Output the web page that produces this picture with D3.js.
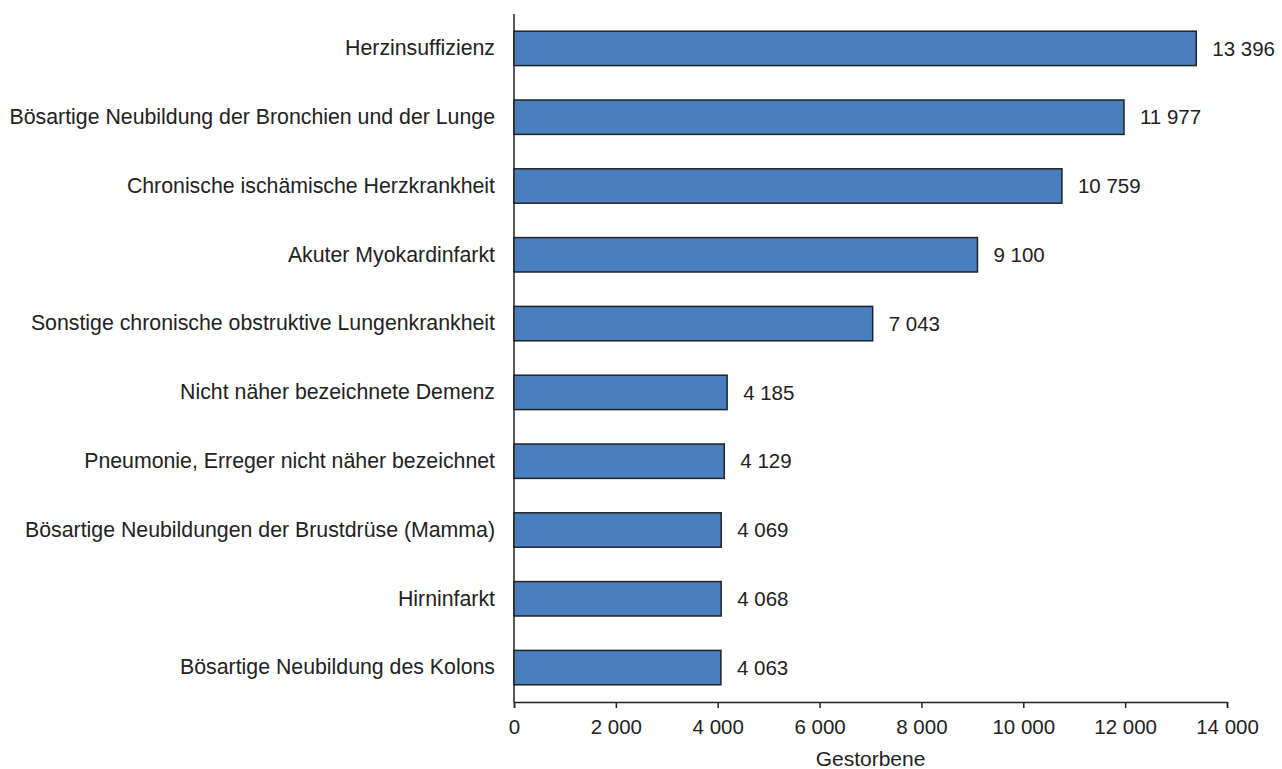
<!DOCTYPE html>
<html>
<head>
<meta charset="utf-8">
<script src="https://cdn.jsdelivr.net/npm/d3@7"></script>
<style>
  body { margin: 0; background: #fff; overflow: hidden; }
  svg { display: block; }
  text { font-family: "Liberation Sans", Arial, sans-serif; fill: #222; }
</style>
</head>
<body>
<script>
//categories and values
const causes = [
  'Herzinsuffizienz',
  'Bösartige Neubildung der Bronchien und der Lunge',
  'Chronische ischämische Herzkrankheit',
  'Akuter Myokardinfarkt',
  'Sonstige chronische obstruktive Lungenkrankheit',
  'Nicht näher bezeichnete Demenz',
  'Pneumonie, Erreger nicht näher bezeichnet',
  'Bösartige Neubildungen der Brustdrüse (Mamma)',
  'Hirninfarkt',
  'Bösartige Neubildung des Kolons'
]
const deaths = [13396, 11977, 10759, 9100, 7043, 4185, 4129, 4069, 4068, 4063]
const xTicks = [0, 2000, 4000, 6000, 8000, 10000, 12000, 14000]
const xAxisLabel = 'Gestorbene'

const data = causes.map((c, i) => ({ cause: c, value: deaths[i] }))

const width = 1282
const height = 769
const margin = { top: 14, right: 55, bottom: 67, left: 514 }
const innerWidth = width - margin.left - margin.right
const innerHeight = height - margin.top - margin.bottom

const barColor = '#4a7fbf'
const labelSize = '21.3px'
const numSize = '20.5px'

//number format with a space as thousands separator
const fmt = n => d3.format(',')(n).replace(/,/g, ' ')

const svg = d3.select('body').append('svg')
  .attr('width', width)
  .attr('height', height)

const g = svg.append('g')
  .attr('transform', `translate(${margin.left},${margin.top})`)

//=========== SCALES ===========
const xScale = d3.scaleLinear()
  .domain([0, 14000])
  .range([0, innerWidth])

const yScale = d3.scaleBand()
  .domain(causes)
  .range([0, innerHeight])
  .paddingInner(0.5)
  .paddingOuter(0.25)

//=========== AXES ===========
const xAxisGroup = g.append('g')
  .attr('transform', `translate(0,${innerHeight})`)
  .call(d3.axisBottom(xScale).tickValues(xTicks).tickFormat(fmt).tickSize(6).tickSizeOuter(6).tickPadding(11))
  .attr('font-size', null)
  .attr('font-family', null)

xAxisGroup.selectAll('path, line').attr('stroke', '#222').attr('stroke-width', 1.5)
xAxisGroup.selectAll('text').style('font-size', numSize).attr('fill', '#222')

//x axis title
g.append('text')
  .text(xAxisLabel)
  .attr('x', innerWidth / 2)
  .attr('y', innerHeight + 64)
  .attr('text-anchor', 'middle')
  .style('font-size', '21px')

const yAxisGroup = g.append('g')
  .call(d3.axisLeft(yScale).tickSize(0).tickPadding(19))
  .attr('font-size', null)
  .attr('font-family', null)

yAxisGroup.select('.domain').attr('stroke', '#222').attr('stroke-width', 1.5)
  .attr('d', `M0,0V${innerHeight}`)
yAxisGroup.selectAll('text').style('font-size', labelSize).attr('fill', '#222')

//=========== BARS ===========
g.selectAll('rect.bar')
  .data(data)
  .enter()
  .append('rect')
  .attr('class', 'bar')
  .attr('x', 0)
  .attr('y', d => yScale(d.cause))
  .attr('width', d => xScale(d.value))
  .attr('height', yScale.bandwidth())
  .attr('fill', barColor)
  .attr('stroke', '#222')
  .attr('stroke-width', 1.5)

g.selectAll('text.value')
  .data(data)
  .enter()
  .append('text')
  .attr('class', 'value')
  .attr('x', d => xScale(d.value) + 16)
  .attr('y', d => yScale(d.cause) + yScale.bandwidth() / 2)
  .attr('dy', '0.35em')
  .style('font-size', numSize)
  .text(d => fmt(d.value))
</script>
</body>
</html>
